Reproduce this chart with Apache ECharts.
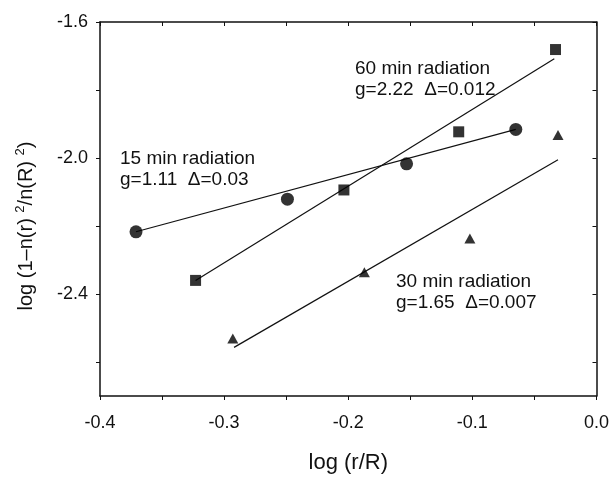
<!DOCTYPE html>
<html>
<head>
<meta charset="utf-8">
<script src="https://cdn.jsdelivr.net/npm/echarts@6/dist/echarts.min.js"></script>
<style>
html,body{margin:0;padding:0;background:#fff;}
#c{width:612px;height:479px;}
</style>
</head>
<body>
<div id="c"></div>
<script>
// ---- data ----
const x15 = [-0.371, -0.249, -0.153, -0.065];
const y15 = [-2.217, -2.121, -2.017, -1.916];
const x60 = [-0.323, -0.2035, -0.111, -0.033];
const y60 = [-2.360, -2.094, -1.923, -1.681];
const x30 = [-0.293, -0.187, -0.102, -0.031];
const y30 = [-2.531, -2.336, -2.237, -1.932];
const fit15X = [-0.371, -0.065];
const fit15Y = [-2.217, -1.916];
const fit60X = [-0.323, -0.034];
const fit60Y = [-2.360, -1.708];
const fit30X = [-0.292, -0.031];
const fit30Y = [-2.557, -2.005];
const xLabelValues = [-0.4, -0.3, -0.2, -0.1, 0.0];
const xTickValues = [-0.4, -0.35, -0.3, -0.25, -0.2, -0.15, -0.1, -0.05, 0.0];
const yLabelValues = [-2.4, -2.0, -1.6];
const yTickValues = [-2.6, -2.4, -2.2, -2.0, -1.8, -1.6];
const xTitle = 'log (r/R)';
const yTitle = '{n|log (1\u2013n(r) }{s|2}{n|/n(R) }{s|2}{n|)}';
const notes = [
  ['60 min radiation', 'g=2.22  \u0394=0.012'],
  ['15 min radiation', 'g=1.11  \u0394=0.03'],
  ['30 min radiation', 'g=1.65  \u0394=0.007']
];

const pairs = (xs, ys) => xs.map((v, i) => [v, ys[i]]);
const FONT = '"Liberation Sans", Arial, sans-serif';
const INK = '#111';

const chart = echarts.init(document.getElementById('c'), null, {renderer: 'canvas'});

const axisCommon = {
  type: 'value',
  axisLine: {show: true, onZero: false, lineStyle: {color: INK, width: 1.5}},
  splitLine: {show: false}
};

const option = {
  backgroundColor: '#fff',
  animation: false,
  grid: {left: 100, right: 15, top: 22, bottom: 77},
  xAxis: [
    Object.assign({}, axisCommon, {
      position: 'bottom', min: -0.4, max: 0,
      name: xTitle, nameLocation: 'middle', nameGap: 56,
      nameTextStyle: {fontFamily: FONT, fontSize: 22, color: INK},
      axisTick: {show: true, inside: false, length: 4, customValues: xTickValues, lineStyle: {color: INK}},
      axisLabel: {customValues: xLabelValues, margin: 18, fontFamily: FONT, fontSize: 18, color: INK,
        formatter: v => v.toFixed(1)}
    }),
    Object.assign({}, axisCommon, {
      position: 'top', min: -0.4, max: 0,
      axisTick: {show: true, inside: true, length: 4, customValues: xTickValues, lineStyle: {color: INK}},
      axisLabel: {show: false}
    })
  ],
  yAxis: [
    Object.assign({}, axisCommon, {
      position: 'left', min: -2.7, max: -1.6,
      axisTick: {show: true, inside: false, length: 4, customValues: yTickValues, lineStyle: {color: INK}},
      axisLabel: {customValues: yLabelValues, margin: 12, fontFamily: FONT, fontSize: 18, color: INK,
        formatter: v => v.toFixed(1)}
    }),
    Object.assign({}, axisCommon, {
      position: 'right', min: -2.7, max: -1.6,
      axisTick: {show: true, inside: true, length: 4, customValues: yTickValues, lineStyle: {color: INK}},
      axisLabel: {show: false}
    })
  ],
  series: [
    {type: 'line', data: pairs(fit15X, fit15Y), symbol: 'none', lineStyle: {color: INK, width: 1.2}, z: 1},
    {type: 'line', data: pairs(fit60X, fit60Y), symbol: 'none', lineStyle: {color: INK, width: 1.2}, z: 1},
    {type: 'line', data: pairs(fit30X, fit30Y), symbol: 'none', lineStyle: {color: INK, width: 1.2}, z: 1},
    {type: 'scatter', data: pairs(x15, y15), symbol: 'circle', symbolSize: 13, itemStyle: {color: '#000'}, z: 3},
    {type: 'scatter', data: pairs(x60, y60), symbol: 'rect', symbolSize: 11, itemStyle: {color: '#000'}, z: 3},
    {type: 'scatter', data: pairs(x30, y30), symbol: 'triangle', symbolSize: [11, 10], itemStyle: {color: '#000'}, z: 3}
  ],
  graphic: [
    {type: 'text', x: 26, y: 226, rotation: Math.PI / 2,
      style: {text: yTitle, align: 'center', verticalAlign: 'middle', fill: INK,
        rich: {
          n: {fontFamily: FONT, fontSize: 20, fill: INK, lineHeight: 24, verticalAlign: 'middle'},
          s: {fontFamily: FONT, fontSize: 13, fill: INK, lineHeight: 13, verticalAlign: 'top'}
        }}},
    {type: 'text', left: 355, top: 58, style: {text: notes[0].join('\n'), font: '19px ' + FONT, lineHeight: 21, fill: INK}},
    {type: 'text', left: 120, top: 148, style: {text: notes[1].join('\n'), font: '19px ' + FONT, lineHeight: 21, fill: INK}},
    {type: 'text', left: 396, top: 271, style: {text: notes[2].join('\n'), font: '19px ' + FONT, lineHeight: 21, fill: INK}}
  ]
};
chart.setOption(option);
</script>
</body>
</html>
